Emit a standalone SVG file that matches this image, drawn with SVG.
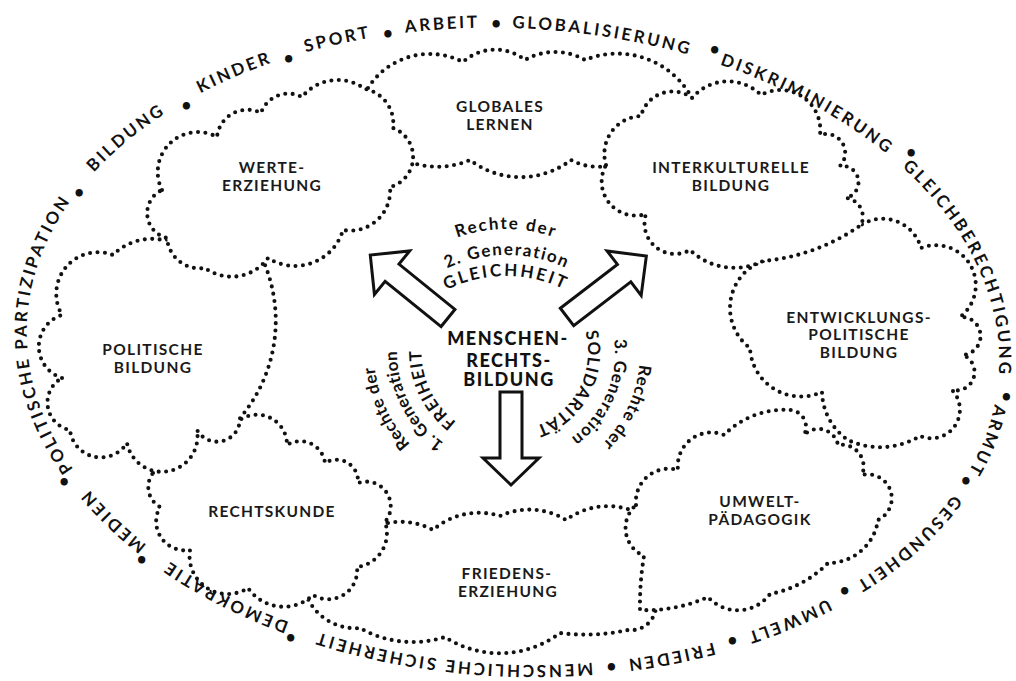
<svg xmlns="http://www.w3.org/2000/svg" xmlns:xlink="http://www.w3.org/1999/xlink" width="1016" height="681" viewBox="0 0 1016 681">
<style>
.ring{font-family:Lato,'Liberation Sans',sans-serif;font-weight:700;font-size:17px;letter-spacing:2.7px;fill:#111}
.bul{font-family:Lato,'Liberation Sans',sans-serif;font-weight:700;font-size:17px;fill:#111;text-anchor:middle}
.cl{fill:#fff;stroke:#111;stroke-width:4.1;stroke-dasharray:0 7.4;stroke-linecap:round;stroke-linejoin:round}
.lbl{font-family:Lato,'Liberation Sans',sans-serif;font-weight:700;font-size:15.5px;letter-spacing:1.3px;text-anchor:middle;fill:#1a1a1a}
.arr{fill:#fff;stroke:#111;stroke-width:3;stroke-linejoin:miter}
.core{font-family:Lato,'Liberation Sans',sans-serif;font-weight:900;font-size:18px;letter-spacing:1.5px;text-anchor:middle;fill:#111}
.arc{font-family:Lato,'Liberation Sans',sans-serif;font-weight:700;font-size:17px;fill:#111}
</style>
<defs>
<path id="r1" d="M101.2,507.9 A490,320 3 0 1 99.95,164.65"/>
<path id="r2" d="M54.66,223.35 A490,320 3 0 1 220.45,82.93"/>
<path id="r3" d="M145.4,126.1 A490,320 3 0 1 333.0,45.0"/>
<path id="r4" d="M242.4,73.45 A490,320 3 0 1 437.9,29.35"/>
<path id="r5" d="M339.0,43.6 A490,320 3 0 1 548.2,29.5"/>
<path id="r6" d="M445.9,28.8 A490,320 3 0 1 756.2,77.0"/>
<path id="r7" d="M662.5,47.3 A490,320 3 0 1 928.1,189.6"/>
<path id="r8" d="M864.8,135.05 A490,320 3 0 1 992.8,429.3"/>
<path id="r9" d="M1003.6,363.0 A490,320 3 0 1 946.9,510.7"/>
<path id="r10" d="M985.0,449.7 A490,320 3 0 1 809.1,612.4"/>
<path id="r11" d="M884.1,568.85 A490,320 3 0 1 687.4,652.7"/>
<path id="r12" d="M778.8,625.3 A490,320 3 0 1 561.25,668.15"/>
<path id="r13" d="M661.5,657.8 A490,320 3 0 1 252.6,610.96"/>
<path id="r14" d="M344.45,643.35 A490,320 3 0 1 120.3,526.6"/>
<path id="r15" d="M189.3,577.96 A490,320 3 0 1 55.5,446.6"/>
<path id="t1" d="M436,247.5 A142,142 0 0 1 576,247.5"/>
<path id="t2" d="M437,273.6 A141,141 0 0 1 577,273.6"/>
<path id="t3" d="M436,295.9 A133,133 0 0 1 576,295.9"/>
<path id="s1" d="M579.3,316 A79,79 0 0 1 518.8,430.4"/>
<path id="s2" d="M599.7,297.2 A106,106 0 0 1 529.5,456"/>
<path id="s3" d="M632.2,307.5 A131,131 0 0 1 553.5,475.2"/>
<path id="f1" d="M487.3,437.3 A89,89 0 0 1 428.8,315.8"/>
<path id="f2" d="M493.4,462.9 A112,112 0 0 1 410.1,299.4"/>
<path id="f3" d="M462,478.6 A135,135 0 0 1 382.4,305"/>
</defs>

<g id="ring" transform="translate(513,346.4) scale(0.993,0.994) translate(-514,-348)">
<text class="ring" text-anchor="middle" letter-spacing="2.3"><textPath href="#r1" xlink:href="#r1" startOffset="50%">POLITISCHE PARTIZIPATION</textPath></text>
<text class="ring" text-anchor="middle"><textPath href="#r2" xlink:href="#r2" startOffset="50%">BILDUNG</textPath></text>
<text class="ring" text-anchor="middle"><textPath href="#r3" xlink:href="#r3" startOffset="50%">KINDER</textPath></text>
<text class="ring" text-anchor="middle"><textPath href="#r4" xlink:href="#r4" startOffset="50%">SPORT</textPath></text>
<text class="ring" text-anchor="middle"><textPath href="#r5" xlink:href="#r5" startOffset="50%">ARBEIT</textPath></text>
<text class="ring" text-anchor="middle" letter-spacing="3"><textPath href="#r6" xlink:href="#r6" startOffset="50%">GLOBALISIERUNG</textPath></text>
<text class="ring" text-anchor="middle" letter-spacing="2.2"><textPath href="#r7" xlink:href="#r7" startOffset="52%">DISKRIMINIERUNG</textPath></text>
<text class="ring" text-anchor="middle" letter-spacing="2.2"><textPath href="#r8" xlink:href="#r8" startOffset="50%">GLEICHBERECHTIGUNG</textPath></text>
<text class="ring" text-anchor="middle"><textPath href="#r9" xlink:href="#r9" startOffset="50%">ARMUT</textPath></text>
<text class="ring" text-anchor="middle"><textPath href="#r10" xlink:href="#r10" startOffset="50%">GESUNDHEIT</textPath></text>
<text class="ring" text-anchor="middle"><textPath href="#r11" xlink:href="#r11" startOffset="50%">UMWELT</textPath></text>
<text class="ring" text-anchor="middle"><textPath href="#r12" xlink:href="#r12" startOffset="50%">FRIEDEN</textPath></text>
<text class="ring" text-anchor="middle"><textPath href="#r13" xlink:href="#r13" startOffset="50%">MENSCHLICHE SICHERHEIT</textPath></text>
<text class="ring" text-anchor="middle"><textPath href="#r14" xlink:href="#r14" startOffset="50%">DEMOKRATIE</textPath></text>
<text class="ring" text-anchor="middle"><textPath href="#r15" xlink:href="#r15" startOffset="50%">MEDIEN</textPath></text>
<text class="bul" x="77" y="199">•</text>
<text class="bul" x="185" y="111">•</text>
<text class="bul" x="288" y="64">•</text>
<text class="bul" x="388" y="39">•</text>
<text class="bul" x="497" y="29">•</text>
<text class="bul" x="717" y="55">•</text>
<text class="bul" x="915" y="158">•</text>
<text class="bul" x="1011" y="404">•</text>
<text class="bul" x="970" y="488">•</text>
<text class="bul" x="848" y="599">•</text>
<text class="bul" x="735" y="649">•</text>
<text class="bul" x="613" y="676">•</text>
<text class="bul" x="290" y="646">•</text>
<text class="bul" x="140" y="568">•</text>
<text class="bul" x="62" y="489">•</text>
</g>

<g id="cloud-globales">
<path class="cl" d="M368,88 A73,73 0 0 1 463,62 A48,48 0 0 1 525,60 A60,60 0 0 1 585,60 A85,85 0 0 1 692,98 A60,60 0 0 1 618,163 A56,56 0 0 1 571,160 A83,83 0 0 1 470,160 A82,82 0 0 1 413,163 A50,50 0 0 1 368,88 Z"/>
<text class="lbl" x="500" y="112">GLOBALES</text>
<text class="lbl" x="500" y="130">LERNEN</text>
</g>
<g id="cloud-friedens">
<path class="cl" d="M388,523 A68,68 0 0 1 433,530 A70,70 0 0 1 500,516 A70,70 0 0 1 566,520 A70,70 0 0 1 638,513 A300,300 0 0 1 655,598 A25,25 0 0 1 628,630 A200,200 0 0 1 560,633 A100,100 0 0 1 445,637 A106,106 0 0 1 360,628 A53,53 0 0 1 307,597 A60,60 0 0 1 388,523 Z"/>
<text class="lbl" x="507" y="579">FRIEDENS-</text>
<text class="lbl" x="508" y="597">ERZIEHUNG</text>
</g>
<g id="cloud-rechtskunde">
<path class="cl" d="M153,473 A40,40 0 0 1 197,430 A40,40 0 0 1 240,420 A30,30 0 0 1 287,445 A25,25 0 0 1 325,463 A21.6,21.6 0 0 1 358,483 A24.6,24.6 0 0 1 385,522 A34,34 0 0 1 357,567 A29,29 0 0 1 313,595 A43,43 0 0 1 248,588 A38,38 0 0 1 190,550 A29,29 0 0 1 160,507 A23,23 0 0 1 153,473 Z"/>
<text class="lbl" x="272" y="517">RECHTSKUNDE</text>
</g>
<g id="cloud-politische">
<path class="cl" d="M62,378 A33,33 0 0 1 62,315 A41.7,41.7 0 0 1 113,255 A55,55 0 0 1 163,240 A150,150 0 0 1 265,265 A150,150 0 0 1 240,418 A23,23 0 0 1 197,430 A35.6,35.6 0 0 1 127,443 A31,31 0 0 1 70,430 A28,28 0 0 1 62,378 Z"/>
<text class="lbl" x="153" y="355">POLITISCHE</text>
<text class="lbl" x="153" y="373">BILDUNG</text>
</g>
<g id="cloud-werte">
<path class="cl" d="M162,190 A40,40 0 0 1 217,137 A30.5,30.5 0 0 1 261,113 A29,29 0 0 1 302,97 A46,46 0 0 1 365,89 A35,35 0 0 1 393,128 A31,31 0 0 1 390,187 A40,40 0 0 1 343,230 A50,50 0 0 1 268,258 A45,45 0 0 1 205,268 A33,33 0 0 1 167,238 A25.5,25.5 0 0 1 162,190 Z"/>
<text class="lbl" x="272" y="173">WERTE-</text>
<text class="lbl" x="272" y="191">ERZIEHUNG</text>
</g>
<g id="cloud-umwelt">
<path class="cl" d="M636,505 A33,33 0 0 1 678,470 A33.5,33.5 0 0 1 724,435 A85,85 0 0 1 790,410 A17,17 0 0 1 804,435 A20,20 0 0 1 838,445 A22,22 0 0 1 862,475 A24,24 0 0 1 878,520 A50,50 0 0 1 828,563 A110,110 0 0 1 770,594 A40,40 0 0 1 708,597 A150,150 0 0 1 640,610 A300,300 0 0 1 644,556 A30.5,30.5 0 0 1 636,505 Z"/>
<text class="lbl" x="760" y="507">UMWELT-</text>
<text class="lbl" x="760" y="525">PÄDAGOGIK</text>
</g>
<g id="cloud-entwicklung">
<path class="cl" d="M763,261 A100,100 0 0 1 861,225 A40,40 0 0 1 921,248 A40,40 0 0 1 960,317 A19,19 0 0 1 963,355 A18.4,18.4 0 0 1 952,390 A28.6,28.6 0 0 1 920,436 A76,76 0 0 1 848,440 A60,60 0 0 1 822,392 A51,51 0 0 1 750,348 A50,50 0 0 1 763,261 Z"/>
<text class="lbl" x="859" y="323">ENTWICKLUNGS-</text>
<text class="lbl" x="859" y="340">POLITISCHE</text>
<text class="lbl" x="859" y="358">BILDUNG</text>
</g>
<g id="cloud-interkulturelle">
<path class="cl" d="M606,165 A38,38 0 0 1 641,116 A32.5,32.5 0 0 1 692,98 A47,47 0 0 1 761,95 A40,40 0 0 1 820,135 A19,19 0 0 1 840,166 A16.3,16.3 0 0 1 846,198 A19,19 0 0 1 861,225 A200,200 0 0 1 763,261 A64,64 0 0 1 690,250 A30.5,30.5 0 0 1 646,214 A34,34 0 0 1 606,165 Z"/>
<text class="lbl" x="731" y="173">INTERKULTURELLE</text>
<text class="lbl" x="731" y="191">BILDUNG</text>
</g>

<g id="connectors">
<path class="arr" transform="translate(448,318) rotate(-141)" d="M0,-11 L72,-11 L72,-28 L100,0 L72,28 L72,11 L0,11 Z"/>
<path class="arr" transform="translate(567,317) rotate(-37.5)" d="M0,-11 L72,-11 L72,-28 L100,0 L72,28 L72,11 L0,11 Z"/>
<path class="arr" transform="translate(511,392) rotate(90)" d="M0,-11 L66,-11 L66,-28 L93,0 L66,28 L66,11 L0,11 Z"/>
</g>

<g id="center">
<text class="core" x="508" y="345">MENSCHEN-</text>
<text class="core" x="509" y="367">RECHTS-</text>
<text class="core" x="509" y="386">BILDUNG</text>
<text class="arc" text-anchor="middle" letter-spacing="1.8"><textPath href="#t1" xlink:href="#t1" startOffset="50%">Rechte der</textPath></text>
<text class="arc" text-anchor="middle" letter-spacing="1.6"><textPath href="#t2" xlink:href="#t2" startOffset="50%">2. Generation</textPath></text>
<text class="arc" text-anchor="middle" letter-spacing="2.5"><textPath href="#t3" xlink:href="#t3" startOffset="50%">GLEICHHEIT</textPath></text>
<text class="arc" text-anchor="middle" letter-spacing="1"><textPath href="#s1" xlink:href="#s1" startOffset="50%">SOLIDARITÄT</textPath></text>
<text class="arc" text-anchor="middle" letter-spacing="0.8"><textPath href="#s2" xlink:href="#s2" startOffset="50%">3. Generation</textPath></text>
<text class="arc" text-anchor="middle" letter-spacing="0.8"><textPath href="#s3" xlink:href="#s3" startOffset="50%">Rechte der</textPath></text>
<text class="arc" text-anchor="middle" letter-spacing="1.2"><textPath href="#f1" xlink:href="#f1" startOffset="50%">FREIHEIT</textPath></text>
<text class="arc" text-anchor="middle" letter-spacing="0.4"><textPath href="#f2" xlink:href="#f2" startOffset="50%">1. Generation</textPath></text>
<text class="arc" text-anchor="middle" letter-spacing="0.5"><textPath href="#f3" xlink:href="#f3" startOffset="50%">Rechte der</textPath></text>
</g>
</svg>
